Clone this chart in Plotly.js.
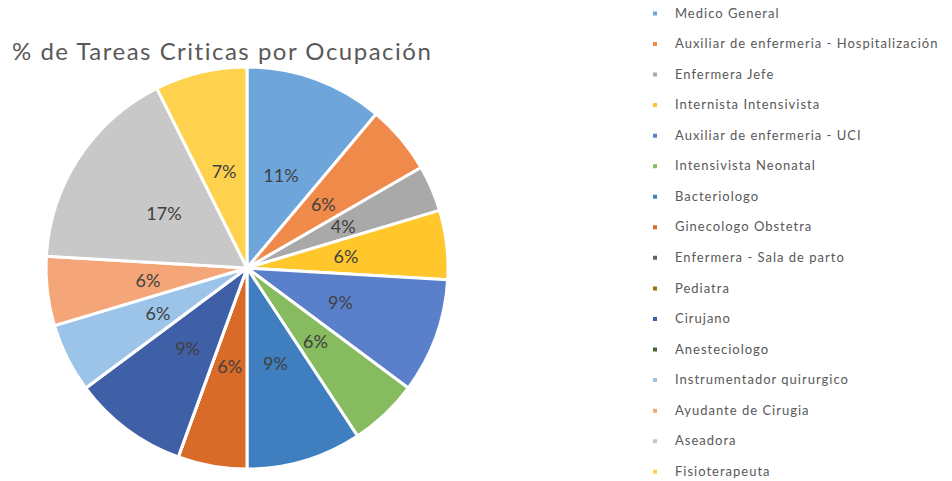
<!DOCTYPE html>
<html>
<head>
<meta charset="utf-8">
<script src="https://cdn.plot.ly/plotly-3.0.1.min.js"></script>
<style>html,body{margin:0;padding:0;background:#fff;}#chart{width:952px;height:481px;}</style>
</head>
<body>
<div id="chart"></div>
<script>
// Occupations (legend order = slice order, clockwise from 12 o'clock)
const occupations = [
  "Medico General",
  "Auxiliar de enfermeria - Hospitalización",
  "Enfermera Jefe",
  "Internista Intensivista",
  "Auxiliar de enfermeria - UCI",
  "Intensivista Neonatal",
  "Bacteriologo",
  "Ginecologo Obstetra",
  "Enfermera - Sala de parto",
  "Pediatra",
  "Cirujano",
  "Anesteciologo",
  "Instrumentador quirurgico",
  "Ayudante de Cirugia",
  "Aseadora",
  "Fisioterapeuta"
];
// Critical tasks per occupation (estimated from the shown shares: 11%,6%,4%,6%,9%,6%,9%,6%,0%,0%,9%,0%,6%,6%,17%,7%)
const criticalTasks = [6, 3, 2, 3, 5, 3, 5, 3, 0, 0, 5, 0, 3, 3, 9, 4];
const sliceColors = [
  "#6ea6dc", "#f08a4b", "#a9a9a9", "#ffc72c", "#5a80cc", "#86bb60",
  "#3f7fbf", "#d96b28", "#636363", "#997300", "#3f5fa6", "#43682b",
  "#9cc3e8", "#f4a679", "#c8c8c8", "#ffd24d"
];
const chartTitle = "% de Tareas Criticas por Ocupación";

const FONT = "Lato, 'DejaVu Sans', sans-serif";
const legendLabels = occupations.map(o =>
  "<span style='font-size:13px;letter-spacing:1px'>" + o + "</span><br> ");

// main pie: slices + legend
const slices = {
  type: "pie",
  labels: legendLabels,
  values: criticalTasks,
  sort: false,
  direction: "clockwise",
  rotation: 0,
  marker: { colors: sliceColors, line: { color: "#ffffff", width: 3 } },
  textinfo: "none",
  hoverinfo: "skip",
  domain: { x: [46/952, 448/952], y: [1 - 470/481, 1 - 66/481] }
};

// same data, transparent ring, only used to place the percentage labels mid-radius
const labelsRing = {
  type: "pie",
  labels: occupations,
  values: criticalTasks,
  sort: false,
  direction: "clockwise",
  rotation: 0,
  hole: 0.7,
  showlegend: false,
  marker: { colors: occupations.map(() => "rgba(0,0,0,0)"), line: { width: 0 } },
  texttemplate: criticalTasks.map(v => v > 0 ? "%{percent:.0%}" : ""),
  textposition: "inside",
  insidetextorientation: "horizontal",
  textfont: { family: FONT, size: 18, color: "#404040" },
  hoverinfo: "skip",
  domain: { x: [130/952, 364/952], y: [1 - 385/481, 1 - 151/481] }
};

const layout = {
  width: 952,
  height: 481,
  margin: { l: 0, r: 0, t: 0, b: 0 },
  paper_bgcolor: "#ffffff",
  plot_bgcolor: "#ffffff",
  font: { family: FONT, color: "#595959" },
  uniformtext: { mode: "show", minsize: 18 },
  title: {
    text: "<span style='letter-spacing:1.5px'>" + chartTitle + "</span>",
    xref: "container", yref: "container",
    x: 12/952, xanchor: "left",
    y: 1 - 52/481, yanchor: "middle",
    font: { family: FONT, size: 24, color: "#595959" }
  },
  showlegend: true,
  legend: {
    x: 635/952, xanchor: "left",
    y: 1 - 2/481, yanchor: "top",
    valign: "top",
    font: { size: 10.6, color: "#595959", family: FONT },
    bgcolor: "rgba(0,0,0,0)"
  }
};

Plotly.newPlot("chart", [slices, labelsRing], layout, { displayModeBar: false, staticPlot: true })
  .then(() => {
    // small square legend keys, as in the original
    document.querySelectorAll("#chart path.legendpie").forEach(p => p.setAttribute("d", "M3.5,3.5H-3.5V-3.5H3.5Z"));
  });
</script>
</body>
</html>
